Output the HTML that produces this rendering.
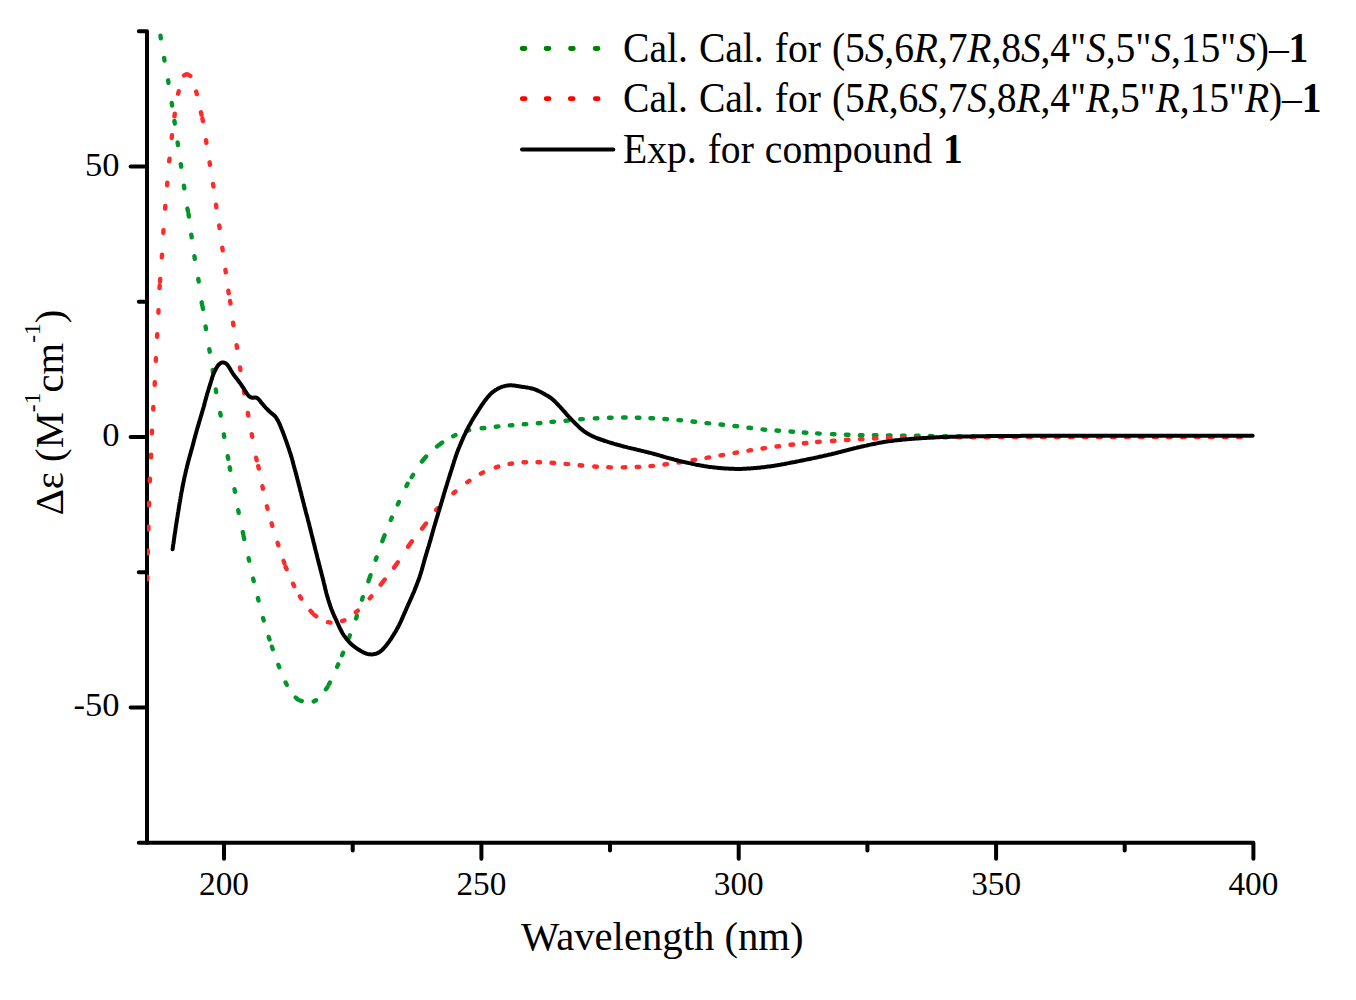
<!DOCTYPE html>
<html><head><meta charset="utf-8"><style>
html,body{margin:0;padding:0;background:#fff;}
svg{display:block;}
text{font-family:"Liberation Serif",serif;fill:#000;}
</style></head><body>
<svg width="1356" height="1000" viewBox="0 0 1356 1000">
<rect width="1356" height="1000" fill="#fff"/>
<defs><clipPath id="c"><rect x="147" y="31" width="1120" height="812"/></clipPath></defs>

<g fill="none" stroke="#000" stroke-width="4" stroke-linecap="round">
<path d="M147 31.2V842.8H1253.4" stroke-linecap="butt" stroke-linejoin="round"/>
<path d="M138.8 31.2H147M130.6 166.5H147M138.8 301.8H147M130.6 437.0H147M138.8 572.2H147M130.6 707.5H147M138.8 842.8H147M224.0 842.8V858.7M352.7 842.8V850.6M481.4 842.8V858.7M610.0 842.8V850.6M738.7 842.8V858.7M867.4 842.8V850.6M996.1 842.8V858.7M1124.7 842.8V850.6M1253.4 842.8V858.7"/>
</g>
<g clip-path="url(#c)" fill="none" stroke-linecap="round" stroke-linejoin="round">
<path d="M160.5 35.8l0.3 2.6M164.1 57.9l0.4 2.6M168.1 80.3l0.4 2.6M171.7 102.9l0.4 2.6M174.4 120.9l0.4 2.6M177.6 142.5l0.4 2.6M180.8 164.1l0.4 2.6M183.9 185.7l0.4 2.6M187.4 208.6l0.5 2.6M188.5 213.9l0.4 2.6M191.3 234.7l0.4 2.6M194.4 256.2l0.4 2.6M198.3 278.9l0.4 2.6M201.7 302.3l0.4 2.6M202.5 306.3l0.5 2.6M205.6 326.5l0.4 2.6M209.3 349.1l0.4 2.6M212.7 370.0l0.4 2.6M215.8 389.5l0.4 2.6M220.2 412.9l0.5 2.6M223.8 434.3l0.4 2.6M227.7 456.2l0.5 2.6M229.7 467.3l0.5 2.5M234.5 489.2l0.5 2.6M238.2 510.2l0.5 2.6M242.8 532.1l0.5 2.5M243.7 536.6l0.5 2.5M248.6 558.2l0.6 2.5M253.1 578.6l0.6 2.5M257.9 598.1l0.6 2.5M263.0 618.0l0.7 2.5M268.7 636.9l0.8 2.5M271.9 646.7l0.8 2.5M278.4 664.9l0.9 2.4M285.6 682.5l1.2 2.3M295.7 697.5l1.9 1.8M299.4 700.2l2.4 0.9M313.7 701.4l2.3 -1.1M325.9 689.3l1.5 -2.1M328.7 684.8l1.2 -2.3M337.1 666.8l1.1 -2.4M342.1 655.2l1.0 -2.4M349.0 637.7l0.9 -2.4M356.1 618.4l0.8 -2.5M362.0 599.7l0.8 -2.5M368.4 581.3l2.1 -6.1M375.7 559.7l0.9 -2.5M382.3 541.3l2.3 -6.1M390.8 520.0l1.0 -2.4M397.8 504.4l1.1 -2.4M406.4 486.1l1.2 -2.3M411.7 477.1l1.4 -2.2M421.9 461.5l4.2 -5.0M437.0 446.4l5.2 -3.9M453.2 436.2l2.3 -1.1M466.7 430.9l2.5 -0.7M481.7 428.3l2.6 -0.3M495.8 426.7l2.6 -0.3M509.8 425.4l2.6 -0.2M523.7 424.3l2.6 -0.2M537.8 423.2l2.6 -0.2M551.4 421.9l2.6 -0.2M565.5 420.8l2.6 -0.2M580.2 419.3l2.6 -0.2M594.8 418.4l2.6 -0.1M609.0 417.8l2.6 -0.1M623.1 417.5l2.6 0.0M636.8 417.7l2.6 0.1M650.4 418.2l2.6 0.1M664.4 419.0l2.6 0.2M678.4 420.1l2.6 0.2M692.5 421.5l2.6 0.3M706.5 423.1l2.6 0.3M720.5 424.5l2.6 0.3M734.5 426.0l2.6 0.3M748.5 427.7l2.6 0.3M762.5 429.4l2.6 0.3M776.5 430.5l2.6 0.2M790.5 431.5l2.6 0.2M803.8 432.5l2.6 0.2M817.1 433.4l2.6 0.2M831.9 434.1l2.6 0.1M845.9 434.7l2.6 0.1M859.9 435.1l2.6 0.1M873.9 435.3l2.6 0.0M887.9 435.4l2.6 0.0M902.0 435.6l2.6 0.0M916.0 435.8l2.6 0.0M930.0 436.0l2.6 0.1M944.0 436.3l2.6 0.0M958.0 436.5l2.6 0.0M972.0 436.6l2.6 0.0M986.0 436.7l2.6 0.0M1000.0 436.7l2.6 0.0M1014.0 436.7l2.6 0.0M1028.0 436.8l2.6 0.0M1042.0 436.8l2.6 0.0M1056.0 436.8l2.6 0.0M1070.0 436.8l2.6 0.0M1084.0 436.8l2.6 0.0M1098.0 436.8l2.6 0.0M1112.0 436.8l2.6 0.0M1126.0 436.8l2.6 0.0M1140.0 436.8l2.6 0.0M1154.0 436.8l2.6 -0.0M1168.0 436.8l2.6 -0.0M1182.0 436.8l2.6 -0.0M1196.0 436.8l2.6 -0.0M1210.0 436.8l2.6 -0.0M1224.0 436.8l2.6 -0.0M1238.0 436.8l2.6 -0.0" stroke="#00962a" stroke-width="4.4"/>
<path d="M147.3 579.3l0.0 -2.6M147.8 553.3l0.1 -2.6M148.4 529.3l0.1 -2.6M149.0 505.3l0.1 -2.6M149.8 481.3l0.1 -2.6M151.0 457.3l0.1 -2.6M151.9 433.3l0.1 -2.6M153.2 409.5l0.1 -2.6M154.7 384.8l0.1 -2.6M155.8 360.8l0.1 -2.6M157.1 336.9l0.1 -2.6M158.4 312.7l0.1 -2.6M159.5 288.1l0.2 -2.6M160.0 281.5l0.2 -2.6M161.8 257.3l0.2 -2.6M163.3 232.8l0.2 -2.6M165.1 208.6l0.2 -2.6M167.1 185.2l0.2 -2.6M169.2 161.3l0.3 -2.6M171.7 137.9l0.3 -2.6M174.4 116.3l0.4 -2.6M178.1 93.7l0.6 -2.5M184.1 75.4l2.3 -1.2M188.2 74.6l2.2 1.4M196.2 91.6l0.7 2.5M200.9 112.3l0.6 2.5M202.4 118.6l0.5 2.6M206.0 140.2l0.4 2.6M209.6 162.3l0.4 2.6M213.0 183.9l0.4 2.6M216.0 204.7l0.4 2.6M219.2 225.5l0.4 2.6M222.3 247.7l0.4 2.6M225.4 269.8l0.4 2.6M228.3 290.6l0.4 2.6M230.1 301.0l0.4 2.6M233.0 322.6l0.4 2.6M236.6 345.2l0.4 2.6M240.0 367.4l0.4 2.6M243.9 390.8l0.4 2.6M247.8 412.9l0.5 2.6M251.7 434.2l0.5 2.6M256.1 457.7l0.6 2.5M258.2 466.1l0.6 2.5M262.4 486.2l0.5 2.5M266.9 506.3l0.6 2.5M271.6 523.3l0.7 2.5M277.6 542.8l0.8 2.5M283.6 560.8l0.8 2.5M285.6 566.8l1.0 2.4M293.0 583.8l1.2 2.3M299.9 596.4l1.4 2.2M310.5 610.9l1.7 1.9M314.1 614.7l2.1 1.5M327.9 622.2l2.6 0.5M342.0 621.1l2.4 -0.9M355.8 612.3l2.0 -1.7M369.7 598.4l1.7 -2.0M380.7 584.6l4.0 -5.1M394.0 567.6l3.8 -5.3M408.1 546.6l3.8 -5.3M422.0 528.6l4.0 -5.1M436.1 510.0l1.7 -1.9M453.4 493.2l2.0 -1.7M467.3 482.3l2.1 -1.5M480.8 473.6l2.3 -1.2M495.8 467.4l2.5 -0.8M509.5 463.9l2.6 -0.4M523.5 462.3l2.6 -0.1M537.5 462.2l2.6 0.1M551.5 462.8l2.6 0.2M565.5 463.9l2.6 0.2M579.6 465.3l2.6 0.2M594.3 466.5l2.6 0.2M608.3 467.3l2.6 0.1M622.7 467.4l2.6 -0.1M636.6 467.0l2.6 -0.1M650.4 466.1l2.6 -0.2M664.4 464.5l2.6 -0.4M678.4 462.5l2.6 -0.4M692.5 460.2l2.6 -0.4M706.5 457.8l2.6 -0.4M720.5 455.4l2.6 -0.5M734.5 452.9l2.6 -0.4M748.5 450.6l2.6 -0.4M762.5 448.5l2.6 -0.4M776.5 446.5l2.6 -0.3M790.5 444.8l2.6 -0.3M803.8 443.3l2.6 -0.3M817.1 442.0l2.6 -0.2M831.9 441.0l2.6 -0.2M845.9 440.0l2.6 -0.2M859.9 439.2l2.6 -0.1M873.9 438.5l2.6 -0.1M887.9 437.9l2.6 -0.1M901.9 437.6l2.6 -0.0M916.0 437.4l2.6 -0.0M930.0 437.3l2.6 -0.0M944.0 437.2l2.6 -0.0M958.0 437.2l2.6 -0.0M972.0 437.2l2.6 -0.0M986.0 437.2l2.6 -0.0M1000.0 437.1l2.6 -0.0M1014.0 437.1l2.6 -0.0M1028.0 437.1l2.6 -0.0M1042.0 437.1l2.6 -0.0M1056.0 437.1l2.6 -0.0M1070.0 437.1l2.6 -0.0M1084.0 437.1l2.6 -0.0M1098.0 437.1l2.6 -0.0M1112.0 437.1l2.6 -0.0M1126.0 437.1l2.6 -0.0M1140.0 437.1l2.6 -0.0M1154.0 437.1l2.6 0.0M1168.0 437.1l2.6 0.0M1182.0 437.1l2.6 0.0M1196.0 437.1l2.6 0.0M1210.0 437.1l2.6 0.0M1224.0 437.1l2.6 0.0M1238.0 437.1l2.6 0.0" stroke="#ff2a2a" stroke-width="4.4"/>
<path d="M172.6 549.2L172.8 547.7L173.0 546.2L173.2 544.7L173.5 543.3L173.7 541.8L173.9 540.3L174.1 538.8L174.3 537.3L174.5 535.8L174.7 534.4L175.0 532.9L175.2 531.4L175.4 529.9L175.6 528.4L175.8 526.9L176.1 525.5L176.3 524.0L176.5 522.5L176.8 521.0L177.0 519.5L177.2 518.0L177.5 516.6L177.7 515.1L177.9 513.6L178.2 512.1L178.4 510.6L178.7 509.2L178.9 507.7L179.1 506.2L179.4 504.7L179.6 503.2L179.9 501.8L180.1 500.3L180.4 498.8L180.6 497.3L180.9 495.8L181.1 494.4L181.4 492.9L181.7 491.4L182.0 489.9L182.2 488.5L182.5 487.0L182.8 485.5L183.1 484.0L183.4 482.6L183.7 481.1L184.0 479.6L184.3 478.2L184.6 476.7L185.0 475.2L185.3 473.8L185.6 472.3L186.0 470.9L186.3 469.4L186.7 467.9L187.0 466.5L187.4 465.0L187.8 463.6L188.1 462.1L188.5 460.7L188.9 459.2L189.3 457.8L189.7 456.3L190.1 454.9L190.5 453.4L190.9 452.0L191.3 450.5L191.7 449.1L192.1 447.7L192.5 446.2L192.9 444.8L193.3 443.3L193.7 441.9L194.0 440.4L194.4 439.0L194.8 437.5L195.2 436.1L195.6 434.6L196.0 433.2L196.4 431.7L196.8 430.3L197.2 428.8L197.6 427.4L198.1 426.0L198.5 424.5L198.9 423.1L199.3 421.6L199.8 420.2L200.2 418.8L200.6 417.3L201.0 415.9L201.5 414.5L201.9 413.0L202.3 411.6L202.7 410.1L203.2 408.7L203.6 407.3L204.0 405.8L204.4 404.4L204.7 402.9L205.1 401.5L205.5 400.0L205.9 398.6L206.3 397.1L206.7 395.7L207.1 394.2L207.5 392.8L208.0 391.4L208.4 389.9L208.9 388.5L209.3 387.1L209.7 385.6L210.2 384.2L210.6 382.8L211.1 381.3L211.5 379.9L212.0 378.5L212.4 377.0L212.9 375.6L213.4 374.2L214.0 372.8L214.6 371.5L215.3 370.1L215.9 368.8L216.7 367.5L217.5 366.2L218.4 365.0L219.4 364.0L220.6 363.1L221.9 362.5L223.3 362.4L224.7 362.8L226.0 363.5L227.1 364.5L228.0 365.6L228.8 366.8L229.6 368.1L230.4 369.4L231.1 370.7L231.9 372.0L232.7 373.3L233.5 374.5L234.4 375.7L235.3 376.9L236.3 378.1L237.2 379.3L238.1 380.5L239.0 381.7L239.9 382.9L240.8 384.1L241.6 385.3L242.4 386.6L243.3 387.8L244.1 389.1L244.8 390.4L245.6 391.7L246.4 392.9L247.3 394.2L248.2 395.3L249.2 396.4L250.4 397.2L251.7 397.7L253.1 397.7L254.6 397.5L256.0 397.6L257.3 398.1L258.4 399.0L259.4 400.1L260.3 401.3L261.2 402.5L262.2 403.6L263.2 404.8L264.1 405.9L265.1 407.0L266.1 408.1L267.2 409.2L268.2 410.3L269.3 411.3L270.4 412.3L271.6 413.3L272.8 414.2L273.9 415.1L275.0 416.2L275.9 417.4L276.7 418.6L277.5 419.9L278.2 421.2L278.9 422.6L279.5 423.9L280.1 425.3L280.7 426.7L281.3 428.1L281.8 429.5L282.4 430.9L282.9 432.3L283.5 433.7L284.0 435.1L284.5 436.5L285.0 437.9L285.5 439.3L286.0 440.7L286.5 442.1L287.0 443.5L287.5 445.0L288.0 446.4L288.5 447.8L289.0 449.2L289.4 450.6L289.9 452.1L290.4 453.5L290.8 454.9L291.2 456.4L291.7 457.8L292.1 459.2L292.5 460.7L292.9 462.1L293.2 463.6L293.6 465.0L294.0 466.5L294.4 467.9L294.8 469.4L295.2 470.8L295.6 472.3L296.0 473.7L296.4 475.2L296.7 476.6L297.1 478.1L297.5 479.5L297.9 481.0L298.3 482.4L298.6 483.9L299.0 485.3L299.4 486.8L299.8 488.2L300.1 489.7L300.5 491.1L300.9 492.6L301.3 494.0L301.6 495.5L302.0 496.9L302.4 498.4L302.7 499.9L303.1 501.3L303.5 502.8L303.9 504.2L304.2 505.7L304.6 507.1L305.0 508.6L305.4 510.0L305.7 511.5L306.1 512.9L306.5 514.4L306.9 515.8L307.3 517.3L307.7 518.7L308.0 520.2L308.4 521.6L308.8 523.1L309.2 524.5L309.5 526.0L309.9 527.4L310.3 528.9L310.6 530.4L311.0 531.8L311.4 533.3L311.7 534.7L312.1 536.2L312.4 537.6L312.8 539.1L313.2 540.5L313.5 542.0L313.9 543.5L314.3 544.9L314.6 546.4L315.0 547.8L315.3 549.3L315.7 550.7L316.1 552.2L316.4 553.6L316.8 555.1L317.2 556.6L317.5 558.0L317.9 559.5L318.3 560.9L318.6 562.4L319.0 563.8L319.4 565.3L319.8 566.7L320.1 568.2L320.5 569.6L320.9 571.1L321.3 572.5L321.6 574.0L322.0 575.4L322.4 576.9L322.7 578.3L323.1 579.8L323.5 581.3L323.8 582.7L324.2 584.2L324.5 585.6L324.9 587.1L325.2 588.5L325.6 590.0L326.0 591.5L326.3 592.9L326.7 594.4L327.1 595.8L327.5 597.2L328.0 598.7L328.4 600.1L328.9 601.6L329.3 603.0L329.8 604.4L330.2 605.8L330.7 607.2L331.2 608.7L331.8 610.1L332.3 611.4L332.9 612.8L333.5 614.2L334.1 615.6L334.7 617.0L335.4 618.3L336.0 619.7L336.6 621.0L337.2 622.4L337.9 623.8L338.5 625.1L339.1 626.5L339.7 627.9L340.4 629.2L341.1 630.5L341.8 631.9L342.5 633.2L343.3 634.5L344.1 635.7L345.0 636.9L345.9 638.1L346.8 639.3L347.8 640.4L348.8 641.6L349.8 642.7L350.9 643.7L352.0 644.7L353.1 645.7L354.3 646.6L355.5 647.5L356.7 648.4L358.0 649.2L359.3 650.0L360.5 650.8L361.8 651.5L363.2 652.2L364.5 652.9L365.9 653.5L367.3 653.9L368.8 654.2L370.2 654.3L371.7 654.4L373.2 654.3L374.7 654.0L376.1 653.7L377.5 653.1L378.9 652.4L380.1 651.6L381.3 650.7L382.4 649.7L383.4 648.6L384.4 647.5L385.4 646.4L386.4 645.2L387.3 644.0L388.2 642.8L389.1 641.6L389.9 640.4L390.8 639.2L391.6 637.9L392.4 636.6L393.2 635.4L394.0 634.1L394.8 632.8L395.6 631.5L396.3 630.2L397.0 628.9L397.8 627.6L398.5 626.3L399.2 624.9L399.8 623.6L400.5 622.2L401.1 620.9L401.7 619.5L402.3 618.1L402.9 616.7L403.5 615.4L404.1 614.0L404.7 612.6L405.3 611.3L405.9 609.9L406.5 608.5L407.1 607.1L407.7 605.8L408.3 604.4L409.0 603.0L409.6 601.7L410.2 600.3L410.8 598.9L411.4 597.6L412.0 596.2L412.6 594.8L413.2 593.4L413.8 592.1L414.4 590.7L414.9 589.3L415.5 587.9L416.0 586.5L416.6 585.1L417.1 583.7L417.6 582.3L418.2 580.9L418.7 579.5L419.2 578.1L419.7 576.6L420.1 575.2L420.6 573.8L421.0 572.4L421.5 570.9L421.9 569.5L422.3 568.0L422.7 566.6L423.1 565.1L423.5 563.7L423.9 562.3L424.3 560.8L424.7 559.4L425.1 557.9L425.5 556.5L426.0 555.0L426.4 553.6L426.8 552.2L427.3 550.7L427.7 549.3L428.1 547.9L428.6 546.4L429.0 545.0L429.4 543.5L429.8 542.1L430.3 540.7L430.7 539.2L431.1 537.8L431.5 536.3L431.9 534.9L432.3 533.4L432.7 532.0L433.1 530.6L433.5 529.1L433.9 527.7L434.3 526.2L434.8 524.8L435.2 523.4L435.6 521.9L436.1 520.5L436.5 519.0L436.9 517.6L437.4 516.2L437.8 514.7L438.2 513.3L438.6 511.9L439.1 510.4L439.5 509.0L439.9 507.6L440.4 506.1L440.8 504.7L441.2 503.2L441.7 501.8L442.1 500.4L442.5 498.9L443.0 497.5L443.4 496.1L443.8 494.6L444.2 493.2L444.7 491.7L445.1 490.3L445.5 488.9L446.0 487.4L446.4 486.0L446.9 484.6L447.3 483.1L447.7 481.7L448.2 480.3L448.6 478.8L449.1 477.4L449.5 476.0L450.0 474.5L450.4 473.1L450.9 471.7L451.3 470.3L451.8 468.8L452.2 467.4L452.7 466.0L453.1 464.5L453.6 463.1L454.0 461.7L454.5 460.2L455.0 458.8L455.4 457.4L455.9 456.0L456.4 454.6L456.9 453.1L457.4 451.7L458.0 450.3L458.5 448.9L459.1 447.5L459.6 446.2L460.2 444.8L460.8 443.4L461.4 442.0L462.0 440.6L462.6 439.3L463.2 437.9L463.8 436.5L464.4 435.2L465.1 433.8L465.7 432.5L466.4 431.1L467.1 429.8L467.8 428.4L468.4 427.1L469.1 425.8L469.9 424.5L470.6 423.2L471.3 421.8L472.1 420.5L472.8 419.3L473.6 418.0L474.4 416.7L475.2 415.4L476.0 414.1L476.8 412.9L477.6 411.6L478.4 410.3L479.2 409.1L480.0 407.8L480.8 406.6L481.6 405.3L482.5 404.1L483.4 402.8L484.2 401.6L485.1 400.4L486.1 399.2L487.0 398.1L487.9 396.9L488.9 395.8L489.9 394.7L491.0 393.6L492.1 392.6L493.3 391.7L494.5 390.8L495.7 389.9L497.0 389.2L498.3 388.4L499.7 387.8L501.0 387.2L502.5 386.7L503.9 386.3L505.3 385.9L506.8 385.6L508.3 385.4L509.8 385.3L511.3 385.3L512.8 385.4L514.2 385.6L515.7 385.8L517.2 386.1L518.7 386.3L520.2 386.5L521.7 386.7L523.1 386.9L524.6 387.1L526.1 387.4L527.6 387.6L529.1 387.9L530.5 388.2L532.0 388.5L533.4 388.9L534.8 389.4L536.2 390.0L537.6 390.5L539.0 391.2L540.3 391.8L541.7 392.5L543.0 393.2L544.3 393.9L545.6 394.7L546.9 395.4L548.2 396.2L549.4 397.0L550.7 397.9L551.9 398.8L553.0 399.8L554.1 400.8L555.2 401.8L556.3 402.9L557.3 404.0L558.3 405.0L559.3 406.1L560.4 407.2L561.4 408.3L562.4 409.5L563.4 410.6L564.4 411.7L565.4 412.8L566.3 414.0L567.3 415.1L568.3 416.2L569.4 417.3L570.4 418.4L571.4 419.5L572.5 420.6L573.5 421.6L574.6 422.7L575.6 423.8L576.7 424.8L577.8 425.8L578.9 426.9L580.0 427.9L581.1 428.9L582.3 429.9L583.4 430.8L584.6 431.7L585.9 432.5L587.1 433.3L588.4 434.1L589.7 434.8L591.1 435.5L592.4 436.2L593.8 436.8L595.1 437.4L596.5 438.0L597.9 438.5L599.3 439.0L600.8 439.5L602.2 440.0L603.6 440.5L605.0 441.0L606.4 441.4L607.9 441.9L609.3 442.3L610.7 442.8L612.2 443.2L613.6 443.7L615.0 444.1L616.5 444.5L617.9 444.9L619.4 445.3L620.8 445.7L622.3 446.1L623.7 446.5L625.2 446.8L626.6 447.2L628.1 447.6L629.5 447.9L631.0 448.3L632.5 448.6L633.9 448.9L635.4 449.3L636.8 449.6L638.3 450.0L639.8 450.3L641.2 450.7L642.7 451.0L644.1 451.4L645.6 451.7L647.1 452.1L648.5 452.5L650.0 452.8L651.4 453.2L652.9 453.6L654.3 454.0L655.7 454.4L657.2 454.8L658.6 455.2L660.1 455.6L661.5 456.0L663.0 456.5L664.4 456.9L665.8 457.3L667.3 457.7L668.7 458.1L670.2 458.5L671.6 458.9L673.1 459.3L674.5 459.7L676.0 460.0L677.4 460.4L678.9 460.8L680.3 461.1L681.8 461.5L683.3 461.8L684.7 462.1L686.2 462.5L687.7 462.8L689.1 463.1L690.6 463.4L692.1 463.8L693.5 464.1L695.0 464.4L696.5 464.7L697.9 464.9L699.4 465.2L700.9 465.5L702.4 465.7L703.8 466.0L705.3 466.2L706.8 466.4L708.3 466.7L709.8 466.9L711.3 467.1L712.8 467.2L714.2 467.4L715.7 467.6L717.2 467.7L718.7 467.9L720.2 468.0L721.7 468.2L723.2 468.3L724.7 468.4L726.2 468.5L727.7 468.6L729.2 468.7L730.7 468.7L732.2 468.8L733.7 468.8L735.2 468.9L736.7 468.9L738.2 468.9L739.7 468.9L741.2 468.9L742.7 468.8L744.2 468.8L745.7 468.7L747.2 468.6L748.7 468.5L750.2 468.4L751.7 468.3L753.2 468.2L754.7 468.1L756.1 468.0L757.6 467.8L759.1 467.7L760.6 467.5L762.1 467.3L763.6 467.2L765.1 467.0L766.6 466.8L768.1 466.6L769.6 466.4L771.0 466.2L772.5 466.0L774.0 465.8L775.5 465.5L777.0 465.3L778.5 465.0L779.9 464.8L781.4 464.5L782.9 464.2L784.4 464.0L785.8 463.7L787.3 463.4L788.8 463.1L790.2 462.8L791.7 462.5L793.2 462.2L794.7 462.0L796.1 461.7L797.6 461.4L799.1 461.1L800.6 460.8L802.0 460.5L803.5 460.2L805.0 459.9L806.4 459.6L807.9 459.3L809.4 459.0L810.8 458.7L812.3 458.4L813.8 458.1L815.2 457.8L816.7 457.5L818.2 457.1L819.6 456.8L821.1 456.5L822.6 456.2L824.0 455.8L825.5 455.5L827.0 455.2L828.4 454.8L829.9 454.5L831.3 454.2L832.8 453.8L834.3 453.5L835.7 453.1L837.2 452.7L838.6 452.3L840.1 452.0L841.5 451.6L843.0 451.2L844.4 450.8L845.9 450.5L847.3 450.1L848.8 449.7L850.2 449.3L851.7 449.0L853.1 448.6L854.6 448.2L856.1 447.9L857.5 447.5L859.0 447.2L860.4 446.9L861.9 446.5L863.4 446.2L864.8 445.9L866.3 445.6L867.8 445.2L869.2 444.9L870.7 444.6L872.2 444.3L873.6 444.0L875.1 443.7L876.6 443.4L878.0 443.1L879.5 442.8L881.0 442.6L882.5 442.3L883.9 442.0L885.4 441.8L886.9 441.6L888.4 441.3L889.9 441.1L891.4 440.9L892.8 440.7L894.3 440.5L895.8 440.3L897.3 440.2L898.8 440.0L900.3 439.9L901.8 439.7L903.3 439.6L904.8 439.4L906.3 439.3L907.8 439.2L909.3 439.1L910.8 438.9L912.3 438.8L913.7 438.7L915.2 438.6L916.7 438.5L918.2 438.4L919.7 438.3L921.2 438.2L922.7 438.1L924.2 438.0L925.7 437.9L927.2 437.8L928.7 437.7L930.2 437.6L931.7 437.5L933.2 437.5L934.7 437.4L936.2 437.3L937.7 437.3L939.2 437.2L940.7 437.1L942.2 437.1L943.7 437.0L945.2 437.0L946.7 436.9L948.2 436.9L949.7 436.8L951.2 436.8L952.7 436.7L954.2 436.7L955.7 436.7L957.2 436.6L958.7 436.6L960.2 436.6L961.7 436.5L963.2 436.5L964.7 436.5L966.2 436.4L967.7 436.4L969.2 436.4L970.7 436.4L972.2 436.3L973.7 436.3L975.2 436.3L976.7 436.3L978.2 436.2L979.7 436.2L981.2 436.2L982.7 436.2L984.2 436.2L985.7 436.2L987.2 436.1L988.7 436.1L990.2 436.1L991.7 436.1L993.2 436.1L994.7 436.1L996.2 436.0L997.7 436.0L999.2 436.0L1000.7 436.0L1002.2 436.0L1003.7 436.0L1005.2 436.0L1006.7 435.9L1008.2 435.9L1009.7 435.9L1011.2 435.9L1012.7 435.9L1014.2 435.9L1015.7 435.9L1017.2 435.9L1018.7 435.9L1020.2 435.9L1021.7 435.8L1023.2 435.8L1024.7 435.8L1026.2 435.8L1027.7 435.8L1029.2 435.8L1030.7 435.8L1032.2 435.8L1033.7 435.8L1035.2 435.8L1036.7 435.8L1038.2 435.8L1039.7 435.8L1041.2 435.8L1042.7 435.8L1044.2 435.8L1045.7 435.8L1047.2 435.8L1048.7 435.8L1050.2 435.8L1051.7 435.8L1053.2 435.7L1054.7 435.7L1056.2 435.7L1057.7 435.7L1059.2 435.7L1060.7 435.7L1062.2 435.7L1063.7 435.7L1065.2 435.7L1066.7 435.7L1068.2 435.7L1069.7 435.7L1071.2 435.7L1072.7 435.7L1074.2 435.7L1075.7 435.7L1077.2 435.7L1078.7 435.7L1080.2 435.7L1081.7 435.7L1083.2 435.7L1084.7 435.7L1086.2 435.7L1087.7 435.7L1089.2 435.7L1090.7 435.7L1092.2 435.7L1093.7 435.7L1095.2 435.7L1096.7 435.7L1098.2 435.7L1099.7 435.7L1101.2 435.7L1102.7 435.7L1104.2 435.7L1105.7 435.7L1107.2 435.7L1108.7 435.7L1110.2 435.7L1111.7 435.7L1113.2 435.7L1114.7 435.7L1116.2 435.7L1117.7 435.7L1119.2 435.7L1120.7 435.7L1122.2 435.7L1123.7 435.7L1125.2 435.7L1126.7 435.7L1128.2 435.7L1129.7 435.7L1131.2 435.7L1132.7 435.7L1134.2 435.7L1135.7 435.7L1137.2 435.7L1138.7 435.7L1140.2 435.7L1141.7 435.7L1143.2 435.7L1144.7 435.7L1146.2 435.7L1147.7 435.7L1149.2 435.7L1150.7 435.7L1152.2 435.7L1153.7 435.7L1155.2 435.7L1156.7 435.7L1158.2 435.7L1159.7 435.7L1161.2 435.7L1162.7 435.7L1164.2 435.7L1165.7 435.7L1167.2 435.7L1168.7 435.7L1170.2 435.7L1171.7 435.7L1173.2 435.7L1174.7 435.7L1176.2 435.7L1177.7 435.7L1179.2 435.7L1180.7 435.7L1182.2 435.7L1183.7 435.7L1185.2 435.7L1186.7 435.7L1188.2 435.7L1189.7 435.7L1191.2 435.7L1192.7 435.7L1194.2 435.7L1195.7 435.7L1197.2 435.7L1198.7 435.7L1200.2 435.7L1201.7 435.7L1203.2 435.8L1204.7 435.8L1206.2 435.8L1207.7 435.8L1209.2 435.8L1210.7 435.8L1212.2 435.8L1213.7 435.8L1215.2 435.8L1216.7 435.8L1218.2 435.8L1219.7 435.8L1221.2 435.8L1222.7 435.8L1224.2 435.8L1225.7 435.8L1227.2 435.8L1228.7 435.8L1230.2 435.8L1231.7 435.8L1233.2 435.8L1234.7 435.8L1236.2 435.8L1237.7 435.8L1239.2 435.8L1240.7 435.8L1242.2 435.8L1243.7 435.8L1245.2 435.8L1246.7 435.8L1248.2 435.8L1249.7 435.8L1251.2 435.8L1252.7 435.8" stroke="#000" stroke-width="4"/>
</g>
<g font-size="34.5"><text x="119.5" y="175.8" text-anchor="end">50</text><text x="119.5" y="445.8" text-anchor="end">0</text><text x="119.5" y="715.8" text-anchor="end">-50</text><text transform="translate(224.0,895.2) scale(0.965,1)" text-anchor="middle">200</text><text transform="translate(481.4,895.2) scale(0.965,1)" text-anchor="middle">250</text><text transform="translate(738.7,895.2) scale(0.965,1)" text-anchor="middle">300</text><text transform="translate(996.1,895.2) scale(0.965,1)" text-anchor="middle">350</text><text transform="translate(1253.4,895.2) scale(0.965,1)" text-anchor="middle">400</text></g>
<text x="521" y="949.6" font-size="40.7">Wavelength (nm)</text>
<text transform="translate(62.8,515.3) rotate(-90)" font-size="40.7">Δε (M<tspan dy="-22.4" font-size="23.5">-1</tspan><tspan dy="22.4">cm</tspan><tspan dy="-22.4" font-size="23.5">-1</tspan><tspan dy="22.4">)</tspan></text>
<g fill="none" stroke-linecap="round" stroke-width="4.8">
<path d="M522.2 48.5h2.8M546.1 48.5h2.8M570.5 48.5h2.8M595.2 48.5h2.8" stroke="#008000"/>
<path d="M522.3 98.7h2.8M546.2 98.7h2.8M570.3 98.7h2.8M595.3 98.7h2.8" stroke="#ff0000"/>
<path d="M522 149.4H613.3" stroke="#000" stroke-width="4"/>
</g>
<g font-size="39.6" word-spacing="1.1">
<text transform="translate(623,62.2) scale(1,1.05)">Cal. Cal. for <tspan letter-spacing="-0.12">(5<tspan font-style="italic">S</tspan>,6<tspan font-style="italic">R</tspan>,7<tspan font-style="italic">R</tspan>,8<tspan font-style="italic">S</tspan>,4"<tspan font-style="italic">S</tspan>,5"<tspan font-style="italic">S</tspan>,15"<tspan font-style="italic">S</tspan>)–<tspan font-weight="bold">1</tspan></tspan></text>
<text transform="translate(623,112.3) scale(1,1.05)">Cal. Cal. for <tspan letter-spacing="-0.12">(5<tspan font-style="italic">R</tspan>,6<tspan font-style="italic">S</tspan>,7<tspan font-style="italic">S</tspan>,8<tspan font-style="italic">R</tspan>,4"<tspan font-style="italic">R</tspan>,5"<tspan font-style="italic">R</tspan>,15"<tspan font-style="italic">R</tspan>)–<tspan font-weight="bold">1</tspan></tspan></text>
<text transform="translate(623,163) scale(1,1.05)">Exp. for compound <tspan font-weight="bold">1</tspan></text>
</g>
</svg>
</body></html>
